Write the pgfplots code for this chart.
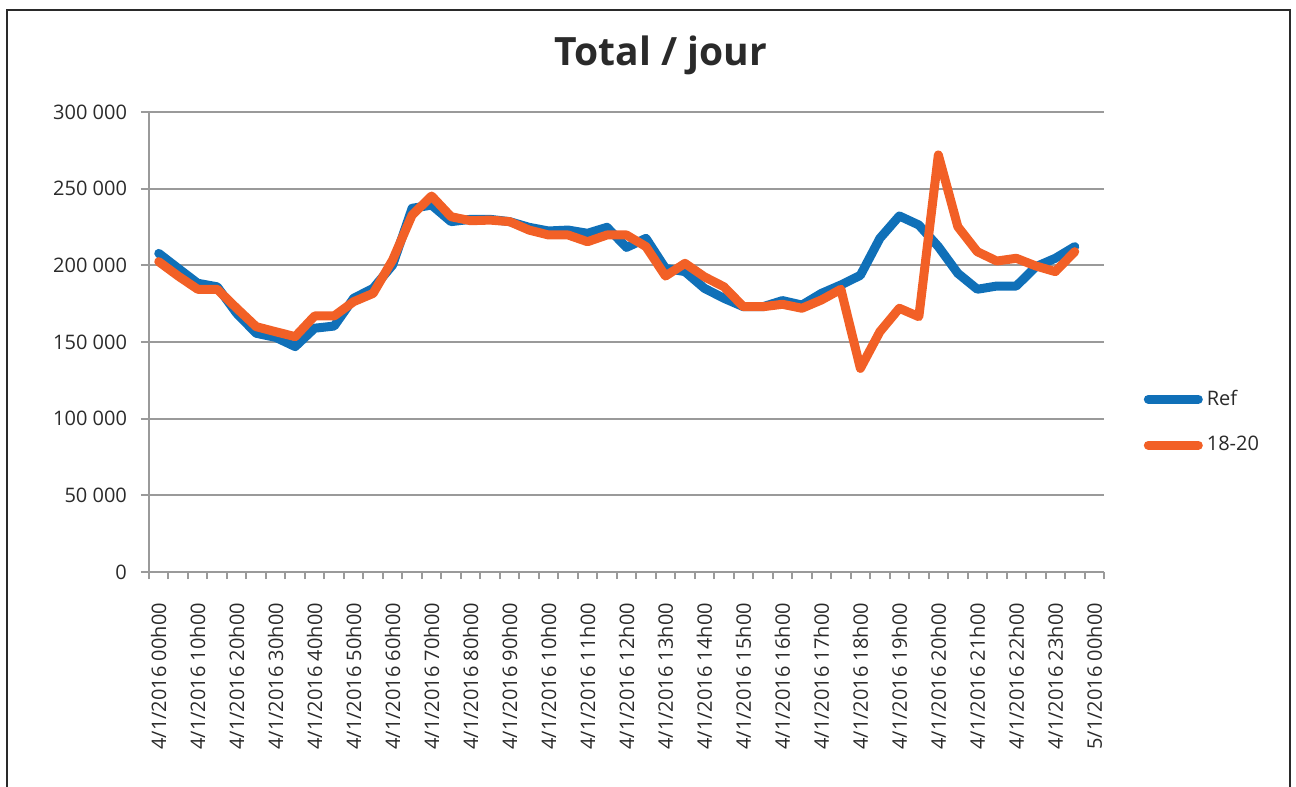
\documentclass[border=0pt]{standalone}
\usepackage{pgfplots}
\pgfplotsset{compat=1.18}
\usepackage{pgfplotstable}
\usepackage{fontspec}
\setmainfont{Open Sans}
\definecolor{refblue}{HTML}{1070B8}
\definecolor{orng}{HTML}{F26026}
\definecolor{gridgray}{HTML}{9A9A9A}
\definecolor{txt}{HTML}{2A2A2A}
\pgfplotstableread{
i ref alt
0 207.8 202.4
1 198.0 193.0
2 188.3 184.4
3 186.0 184.4
4 168.7 172.0
5 155.7 160.0
6 153.0 156.7
7 147.0 153.5
8 159.0 167.0
9 160.4 167.0
10 178.5 176.3
11 185.0 181.7
12 200.2 203.5
13 237.2 232.8
14 239.3 245.2
15 228.5 231.7
16 230.0 229.1
17 230.0 229.5
18 228.5 228.5
19 224.8 223.0
20 222.4 219.8
21 223.0 219.8
22 220.9 215.4
23 224.8 219.8
24 211.7 219.8
25 217.6 212.2
26 198.0 193.0
27 195.9 201.3
28 185.0 192.5
29 178.5 186.0
30 173.0 173.0
31 173.0 173.0
32 177.0 174.6
33 174.1 172.0
34 181.7 177.4
35 187.2 184.4
36 193.5 132.8
37 217.6 156.7
38 232.2 172.0
39 226.3 166.5
40 212.2 272.0
41 194.8 225.2
42 184.4 208.9
43 186.5 202.8
44 186.5 204.6
45 199.1 199.6
46 204.6 195.9
47 212.2 208.9
}\data
\begin{document}
\begin{tikzpicture}
\useasboundingbox (-74.5pt,-107.5pt) rectangle (573.5pt,286pt);
\draw[color=txt, line width=0.8pt] (-71pt,-110pt) -- (-71pt,281pt) -- (570.5pt,281pt) -- (570.5pt,-110pt);
\node[font=\fontsize{19.5}{22}\selectfont\bfseries, text=txt] at (256pt,258.5pt) {Total / jour};
\begin{axis}[
  scale only axis,
  width=477.5pt, height=230pt,
  xmin=-0.5, xmax=48.5,
  ymin=0, ymax=300000,
  scaled y ticks=false,
  axis lines*=left,
  axis line style={gridgray, line width=1pt},
  every tick/.style={gridgray, line width=1pt},
  tick align=outside,
  xtick={0,2,...,48},
  xticklabels={4/1/2016 00h00,4/1/2016 10h00,4/1/2016 20h00,4/1/2016 30h00,4/1/2016 40h00,4/1/2016 50h00,4/1/2016 60h00,4/1/2016 70h00,4/1/2016 80h00,4/1/2016 90h00,4/1/2016 10h00,4/1/2016 11h00,4/1/2016 12h00,4/1/2016 13h00,4/1/2016 14h00,4/1/2016 15h00,4/1/2016 16h00,4/1/2016 17h00,4/1/2016 18h00,4/1/2016 19h00,4/1/2016 20h00,4/1/2016 21h00,4/1/2016 22h00,4/1/2016 23h00,5/1/2016 00h00},
  major x tick style={draw=none},
  minor xtick={-0.5,0.5,...,48.5},
  minor tick length=3.5pt,
  ytick={0,50000,...,300000},
  yticklabels={0,50 000,100 000,150 000,200 000,250 000,300 000},
  major tick length=4pt,
  ymajorgrids,
  grid style={gridgray, line width=1pt},
  /pgf/number format/assume math mode=true,
  tick label style={font=\fontsize{10}{12}\selectfont, text=txt},
  xticklabel style={rotate=90, anchor=east},
  xticklabel shift=8pt,
  yticklabel shift=3.5pt,
  legend style={at={(rel axis cs:1.035,0.326)}, anchor=west, draw=none, fill=none,
    font=\fontsize{10}{12}\selectfont, text=txt, row sep=10pt},
  legend cell align=left,
  legend image code/.code={\draw[#1, line cap=round] (0pt,0pt) -- (25pt,0pt);},
  clip=false,
]
\addplot[refblue, line width=4.5pt, line join=round, line cap=round] table[x=i, y expr=\thisrow{ref}*1000] {\data};
\addlegendentry{Ref}
\addplot[orng, line width=4.5pt, line join=round, line cap=round] table[x=i, y expr=\thisrow{alt}*1000] {\data};
\addlegendentry{18-20}
\end{axis}
\end{tikzpicture}
\end{document}
